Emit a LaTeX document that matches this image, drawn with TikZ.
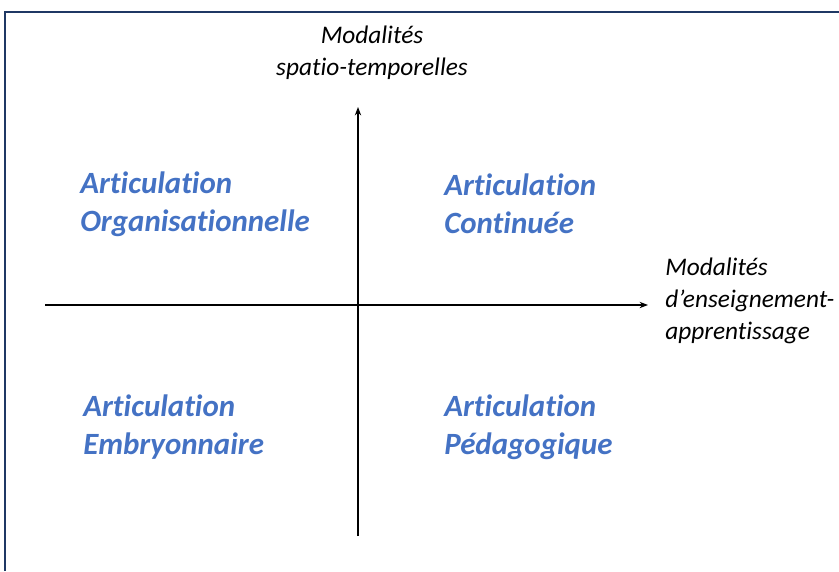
\documentclass[tikz,border=0pt]{standalone}
\usepackage{fontspec}
\setmainfont{Carlito}[Ligatures=NoCommon]
\usepackage{tikz}
\usetikzlibrary{arrows.meta}
\definecolor{quadblue}{HTML}{4472C4}
\definecolor{framecol}{HTML}{1F3864}

\begin{document}
\begin{tikzpicture}[x=0.025cm, y=-0.025cm,
	quad/.style = {align=left, anchor=west, inner sep=0pt, text=quadblue, font=\fontsize{22}{27}\selectfont\bfseries\itshape},
	axislabel/.style = {inner sep=0pt, font=\fontsize{18}{23}\selectfont\itshape},
	axis/.style = {-{Stealth[length=6pt, width=4.5pt]}, line width=0.9pt}]
	\useasboundingbox (0,0) rectangle (839,571);
	\draw[framecol, line width=0.8pt] (5,571) -- (5,12) -- (839,12);
	\coordinate (S) at (358,536);
	\coordinate (N) at (358,107);
	\coordinate (W) at (45,305);
	\coordinate (E) at (648,305);
	\draw[axis] (S) -- (N);
	\draw[axis] (W) -- (E);
	\node[axislabel, align=center] (ylab) at (372,53) {Modalités\\spatio-temporelles};
	\node[axislabel, align=left, anchor=west] (xlab) at (665,301) {Modalités\\d’enseignement-\\apprentissage};
	\node[quad] (orga) at (80,204) {Articulation\\Organisationnelle};
	\node[quad] (cont) at (444,204) {Articulation\\Continuée};
	\node[quad] (embr) at (83,427) {Articulation\\Embryonnaire};
	\node[quad] (peda) at (444,427) {Articulation\\Pédagogique};
\end{tikzpicture}
\end{document}
